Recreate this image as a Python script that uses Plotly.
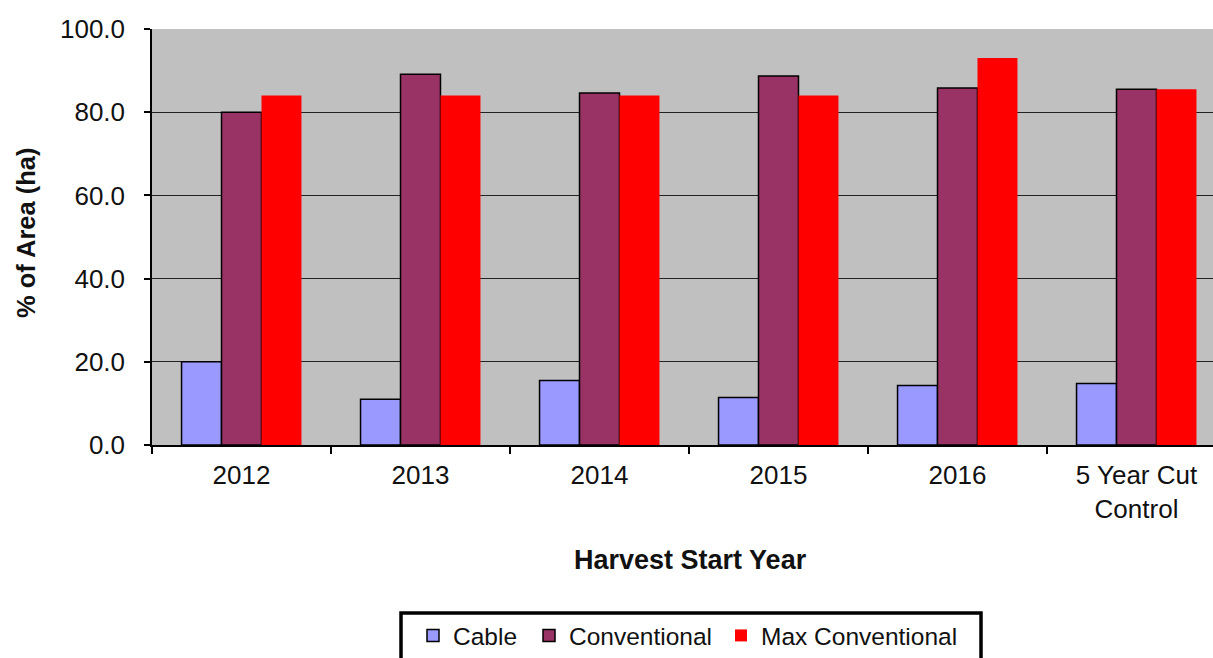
import plotly.graph_objects as go

# Harvest start years (last group is the five-year cut control)
categories = ["2012", "2013", "2014", "2015", "2016", "5 Year Cut<br>Control"]

# Percent of area (ha) by harvest system
cable = [20.0, 11.0, 15.5, 11.4, 14.3, 14.8]
conventional = [80.0, 89.1, 84.6, 88.7, 85.8, 85.5]
max_conventional = [84.0, 84.0, 84.0, 84.0, 93.0, 85.5]

y_ticks = [0, 20, 40, 60, 80, 100]

W, H = 1213, 658
L, R, T, B = 152, 0, 29, 213
plot_w = W - L - R
plot_h = H - T - B

FONT = "Liberation Sans, Arial, sans-serif"
LEGEND_FONT = dict(family=FONT, size=24.5, color="#111111")


def px_x(px):
    return (px - L) / plot_w


def px_y(py):
    return (H - B - py) / plot_h


fig = go.Figure()
fig.add_trace(go.Bar(
    name="Cable", x=categories, y=cable, legend="legend",
    marker=dict(color="#9999FF", line=dict(color="#000000", width=1.5)),
))
fig.add_trace(go.Bar(
    name="Conventional", x=categories, y=conventional, legend="legend2",
    marker=dict(color="#993366", line=dict(color="#000000", width=1.5)),
))
fig.add_trace(go.Bar(
    name="Max Conventional", x=categories, y=max_conventional, legend="legend3",
    marker=dict(color="#FF0000", line=dict(color="#FF0000", width=0)),
))

# category width is ~179 px, so the last group runs slightly past the right edge
cat_px = 179.0
x_max = -0.5 + plot_w / cat_px


def legend_at(left_px):
    return dict(
        orientation="h",
        x=px_x(left_px), xanchor="left",
        y=px_y(613), yanchor="top",
        font=LEGEND_FONT,
        bgcolor="rgba(0,0,0,0)",
        borderwidth=0,
    )


fig.update_layout(
    width=W, height=H,
    margin=dict(l=L, r=R, t=T, b=B, pad=0, autoexpand=False),
    paper_bgcolor="#FFFFFF",
    plot_bgcolor="#C0C0C0",
    barmode="group",
    bargap=0.33,
    bargroupgap=0.0,
    font=dict(family=FONT, size=26, color="#111111"),
    showlegend=True,
    legend=legend_at(413),
    legend2=legend_at(529),
    legend3=legend_at(721),
    xaxis=dict(
        type="category",
        range=[-0.5, x_max],
        tickson="boundaries",
        ticks="outside", ticklen=7, tickwidth=1.5, tickcolor="#000000",
        showline=True, linecolor="#000000", linewidth=1.5,
        showgrid=False,
        tickfont=dict(family=FONT, size=26, color="#111111"),
        ticklabelstandoff=6,
    ),
    yaxis=dict(
        range=[0, 100],
        tickvals=y_ticks,
        tickformat=".1f",
        ticks="outside", ticklen=6, tickwidth=1.5, tickcolor="#000000",
        showline=True, linecolor="#000000", linewidth=1.5,
        showgrid=True, gridcolor="#222222", gridwidth=1.2,
        zeroline=False,
        tickfont=dict(family=FONT, size=26, color="#111111"),
        ticklabelstandoff=14,
    ),
    annotations=[
        dict(text="<b>% of Area (ha)</b>", xref="paper", yref="paper",
             x=px_x(26), y=px_y(233), textangle=-90, showarrow=False,
             xanchor="center", yanchor="middle",
             font=dict(family=FONT, size=25.5, color="#111111")),
        dict(text="<b>Harvest Start Year</b>", xref="paper", yref="paper",
             x=px_x(690), y=px_y(560), showarrow=False,
             xanchor="center", yanchor="middle",
             font=dict(family=FONT, size=27, color="#111111")),
    ],
    shapes=[
        dict(type="rect", xref="paper", yref="paper",
             x0=px_x(401), x1=px_x(981), y0=px_y(613), y1=px_y(700),
             line=dict(color="#000000", width=3.5), fillcolor="rgba(0,0,0,0)",
             layer="above"),
    ],
)

fig.write_html("out.html")
